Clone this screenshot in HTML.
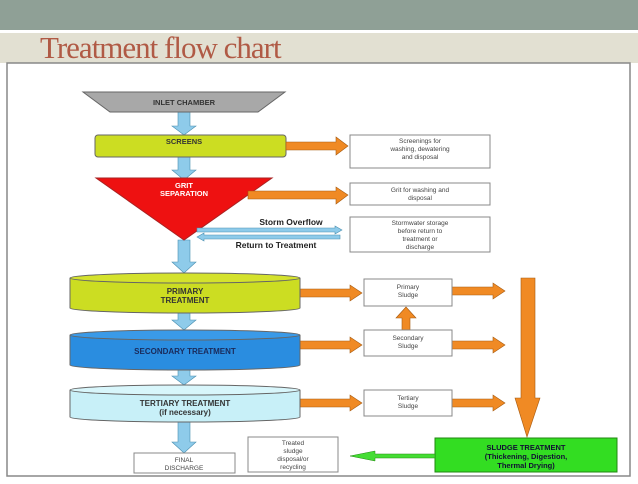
<!DOCTYPE html>
<html><head><meta charset="utf-8"><style>
body{margin:0;width:638px;height:479px;overflow:hidden;background:#fff;font-family:"Liberation Sans",sans-serif}
</style></head><body>
<svg width="638" height="479" viewBox="0 0 638 479" xmlns="http://www.w3.org/2000/svg" font-family="Liberation Sans, sans-serif">
<rect x="0" y="0" width="638" height="30" fill="#8fa096"/>
<rect x="0" y="30" width="638" height="3" fill="#fff"/>
<rect x="0" y="33" width="638" height="30" fill="#e2e0d2"/>
<text x="40" y="58" font-family="Liberation Serif, serif" font-size="31" fill="#b05a45" letter-spacing="-1">Treatment flow chart</text>
<rect x="7" y="63" width="623" height="413" fill="#fff" stroke="#888" stroke-width="1.5"/>
<g font-weight="bold" font-size="7.5" text-anchor="middle" fill="#333">
<!-- blue arrows -->
<g fill="#8ecbea" stroke="#4a8fb0" stroke-width="0.6">
<polygon points="178,112 190,112 190,126 196,126 184,135 172,126 178,126"/>
<polygon points="178,157 190,157 190,170 196,170 184,180 172,170 178,170"/>
<polygon points="178,240 190,240 190,262 196,262 184,273 172,262 178,262"/>
<polygon points="178,313 190,313 190,320 196,320 184,330 172,320 178,320"/>
<polygon points="178,370 190,370 190,376 196,376 184,385 172,376 178,376"/>
<polygon points="178,422 190,422 190,442 196,442 184,453 172,442 178,442"/>
</g>
<polygon points="83,92 285,92 258,112 110,112" fill="#a8a8a8" stroke="#666"/>
<text x="184" y="105">INLET CHAMBER</text>
<rect x="95" y="135" width="191" height="22" rx="3" fill="#ccdd22" stroke="#666"/>
<text x="184" y="144">SCREENS</text>
<polygon points="96,178 272,178 184,240" fill="#ee1111" stroke="#aa2222"/>
<text x="184" y="188" fill="#fff">GRIT</text><text x="184" y="196" fill="#fff">SEPARATION</text>
<!-- orange arrows -->
<g fill="#f08a24" stroke="#a65a10" stroke-width="0.6">
<polygon points="286,142 336,142 336,137 348,146 336,155 336,150 286,150"/>
<polygon points="248,191 336,191 336,187 348,195 336,204 336,199 248,199"/>
<polygon points="300,289 350,289 350,285 362,293 350,301 350,297 300,297"/>
<polygon points="452,287 493,287 493,283 505,291 493,299 493,295 452,295"/>
<polygon points="300,341 350,341 350,337 362,345 350,353 350,349 300,349"/>
<polygon points="452,341 493,341 493,337 505,345 493,353 493,349 452,349"/>
<polygon points="300,399 350,399 350,395 362,403 350,411 350,407 300,407"/>
<polygon points="452,399 493,399 493,395 505,403 493,411 493,407 452,407"/>
<polygon points="402,330 410,330 410,318 416,318 406,307 396,318 402,318"/>
<polygon points="521,278 535,278 535,398 540,398 527,437 515,398 521,398"/>
</g>
<g fill="#fff" stroke="#888">
<rect x="350" y="135" width="140" height="33"/>
<rect x="350" y="183" width="140" height="22"/>
<rect x="350" y="217" width="140" height="35"/>
<rect x="364" y="279" width="88" height="27"/>
<rect x="364" y="330" width="88" height="26"/>
<rect x="364" y="390" width="88" height="26"/>
<rect x="134" y="453" width="101" height="20"/>
<rect x="248" y="437" width="90" height="35"/>
</g>
<g font-weight="normal" font-size="6.5" fill="#444">
<text x="420" y="143">Screenings for</text><text x="420" y="151">washing, dewatering</text><text x="420" y="159">and disposal</text>
<text x="420" y="192">Grit for washing and</text><text x="420" y="200">disposal</text>
<text x="420" y="225">Stormwater storage</text><text x="420" y="233">before return to</text><text x="420" y="241">treatment or</text><text x="420" y="249">discharge</text>
<text x="408" y="289">Primary</text><text x="408" y="297">Sludge</text>
<text x="408" y="340">Secondary</text><text x="408" y="348">Sludge</text>
<text x="408" y="400">Tertiary</text><text x="408" y="408">Sludge</text>
<text x="184" y="462">FINAL</text><text x="184" y="470">DISCHARGE</text>
<text x="293" y="445">Treated</text><text x="293" y="453">sludge</text><text x="293" y="461">disposal/or</text><text x="293" y="469">recycling</text>
</g>
<text x="291" y="225" font-size="8.5" fill="#222">Storm Overflow</text>
<text x="276" y="248" font-size="8.5" fill="#222">Return to Treatment</text>
<g fill="#8ecbea" stroke="#4a8fb0" stroke-width="0.6">
<polygon points="197,228 335,228 335,226 342,230 335,234 335,232 197,232"/>
<polygon points="340,235 204,235 204,233 197,237 204,241 204,239 340,239"/>
</g>
<!-- cylinders -->
<g stroke="#666">
<path d="M70,278 V308 A115,5 0 0 0 300,308 V278" fill="#ccdd22"/><ellipse cx="185" cy="278" rx="115" ry="5" fill="#d4e22c"/>
<path d="M70,335 V365 A115,5 0 0 0 300,365 V335" fill="#2a8de0"/><ellipse cx="185" cy="335" rx="115" ry="5" fill="#3a9ae8"/>
<path d="M70,390 V417 A115,5 0 0 0 300,417 V390" fill="#c8f0f8"/><ellipse cx="185" cy="390" rx="115" ry="5" fill="#d8f6fb"/>
</g>
<text x="185" y="294" font-size="8">PRIMARY</text><text x="185" y="303" font-size="8">TREATMENT</text>
<text x="185" y="354" font-size="8" fill="#1a2a5a">SECONDARY TREATMENT</text>
<text x="185" y="406" font-size="8">TERTIARY TREATMENT</text><text x="185" y="415" font-size="8">(if necessary)</text>
<rect x="435" y="438" width="182" height="34" fill="#33dd22" stroke="#228811"/>
<text x="526" y="450" font-size="7.5" fill="#113">SLUDGE TREATMENT</text>
<text x="526" y="459" font-size="7.5" fill="#113">(Thickening, Digestion,</text>
<text x="526" y="468" font-size="7.5" fill="#113">Thermal Drying)</text>
<polygon points="435,454 375,454 375,451 350,456 375,461 375,458 435,458" fill="#44dd33" stroke="#228811" stroke-width="0.5"/>
</g>
</svg>
</body></html>
